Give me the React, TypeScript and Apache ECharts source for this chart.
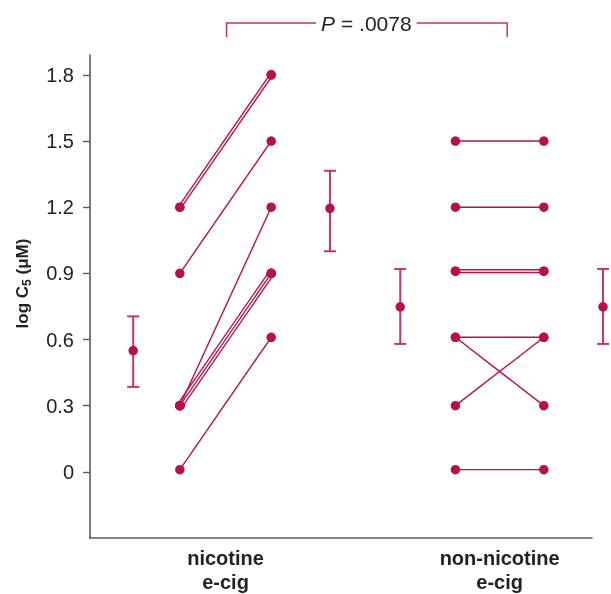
import React, { useEffect, useRef } from "react";
import * as echarts from "echarts";

// ---- data ----
const groups = ["nicotine\ne-cig", "non-nicotine\ne-cig"];
// x positions in axis units (0–100)
const preX = [17.9, 72.8];
const postX = [36.1, 90.4];
const preSummaryX = [8.6, 61.8];
const postSummaryX = [47.8, 102.2];

const nicPre = [1.2, 1.2, 0.9, 0.3, 0.3, 0.3, 0.3, 0.01];
const nicPost = [1.8, 1.8, 1.5, 1.2, 0.9, 0.9, 0.9, 0.61];
const nonPre = [1.5, 1.2, 0.91, 0.91, 0.61, 0.61, 0.3, 0.01];
const nonPost = [1.5, 1.2, 0.91, 0.91, 0.61, 0.3, 0.61, 0.01];

// [mean, low, high]
const nicPreSummary = [0.55, 0.385, 0.705];
const nicPostSummary = [1.195, 1.0, 1.365];
const nonPreSummary = [0.748, 0.58, 0.92];
const nonPostSummary = [0.748, 0.58, 0.92];

const yTicks = [0, 0.3, 0.6, 0.9, 1.2, 1.5, 1.8];
const pValueText = "{i|P} = .0078";
// bracket: [xLeft, xRight, yTop, yBottom] in axis units
const bracket = [27.2, 83.1, 2.035, 1.972];

const FONT = "Liberation Sans";
const MAIN = "#b8104d";
const BAR = "#c4336c";

function buildPairs(pre: number[], post: number[], x1: number, x2: number) {
  const out: number[][] = [];
  const seen: Record<string, number> = {};
  const counts: Record<string, number> = {};
  pre.forEach((v, i) => {
    const k = v + "_" + post[i];
    counts[k] = (counts[k] || 0) + 1;
  });
  pre.forEach((v, i) => {
    const k = v + "_" + post[i];
    const idx = seen[k] || 0;
    seen[k] = idx + 1;
    const off = idx - (counts[k] - 1) / 2;
    out.push([x1, v, x2, post[i], off]);
  });
  return out;
}

export default function App() {
  const ref = useRef<HTMLDivElement>(null);

  useEffect(() => {
    if (!ref.current) return;
    const chart = echarts.init(ref.current, undefined, { renderer: "svg" });

    const pairs = [
      ...buildPairs(nicPre, nicPost, preX[0], postX[0]),
      ...buildPairs(nonPre, nonPost, preX[1], postX[1]),
    ];
    const dots = [
      ...nicPre.map((v) => [preX[0], v]),
      ...nicPost.map((v) => [postX[0], v]),
      ...nonPre.map((v) => [preX[1], v]),
      ...nonPost.map((v) => [postX[1], v]),
    ];
    const summaries = [
      [preSummaryX[0], ...nicPreSummary],
      [postSummaryX[0], ...nicPostSummary],
      [preSummaryX[1], ...nonPreSummary],
      [postSummaryX[1], ...nonPostSummary],
    ];
    const mids = preX.map((x, i) => (x + postX[i]) / 2);

    chart.setOption({
      animation: false,
      textStyle: { fontFamily: FONT },
      grid: { left: 90, right: 19, top: 55, bottom: 53 },
      xAxis: {
        type: "value",
        min: 0,
        max: 100,
        splitLine: { show: false },
        axisTick: { show: false },
        axisLine: { show: true, onZero: false, lineStyle: { color: "#5a5a5a", width: 1.6 } },
        axisLabel: {
          customValues: mids,
          margin: 8,
          formatter: (v: number) => {
            let best = 0;
            mids.forEach((m, i) => {
              if (Math.abs(m - v) < Math.abs(mids[best] - v)) best = i;
            });
            return groups[best];
          },
          fontFamily: FONT,
          fontWeight: "bold",
          fontSize: 20,
          lineHeight: 24,
          color: "#222",
        },
      },
      yAxis: {
        type: "value",
        min: -0.3,
        max: 1.89,
        splitLine: { show: false },
        axisLine: { show: true, onZero: false, lineStyle: { color: "#5a5a5a", width: 1.6 } },
        axisTick: {
          show: true,
          length: 7,
          customValues: yTicks,
          lineStyle: { color: "#5a5a5a", width: 1.4 },
        },
        axisLabel: {
          customValues: yTicks,
          margin: 16,
          formatter: (v: number) => (v === 0 ? "0" : v.toFixed(1)),
          fontFamily: FONT,
          fontSize: 20,
          color: "#222",
        },
        name: "{t|log C}{s|5}{t| (μM)}",
        nameLocation: "middle",
        nameGap: 57,
        nameTextStyle: {
          fontFamily: FONT,
          padding: [0, 0, 0, 26],
          rich: {
            t: { fontFamily: FONT, fontSize: 17, fontWeight: "bold", color: "#222", lineHeight: 22 },
            s: { fontFamily: FONT, fontSize: 12, fontWeight: "bold", color: "#222", lineHeight: 14, verticalAlign: "bottom" },
          },
        },
      },
      series: [
        {
          type: "custom",
          clip: false,
          data: pairs,
          encode: { x: [0, 2], y: [1, 3] },
          renderItem: (params: any, api: any) => {
            const p1 = api.coord([api.value(0), api.value(1)]);
            const p2 = api.coord([api.value(2), api.value(3)]);
            const off = api.value(4) * 2.7;
            const dx = p2[0] - p1[0];
            const dy = p2[1] - p1[1];
            const len = Math.hypot(dx, dy) || 1;
            const nx = (-dy / len) * off;
            const ny = (dx / len) * off;
            return {
              type: "line",
              shape: { x1: p1[0] + nx, y1: p1[1] + ny, x2: p2[0] + nx, y2: p2[1] + ny },
              style: { stroke: MAIN, lineWidth: 1.4 },
            };
          },
        },
        {
          type: "custom",
          clip: false,
          data: summaries,
          encode: { x: 0, y: [2, 3] },
          renderItem: (params: any, api: any) => {
            const x = api.value(0);
            const lo = api.coord([x, api.value(2)]);
            const hi = api.coord([x, api.value(3)]);
            const cap = 6;
            return {
              type: "group",
              children: [
                { type: "line", shape: { x1: lo[0], y1: lo[1], x2: hi[0], y2: hi[1] }, style: { stroke: BAR, lineWidth: 2 } },
                { type: "line", shape: { x1: lo[0] - cap, y1: lo[1], x2: lo[0] + cap, y2: lo[1] }, style: { stroke: BAR, lineWidth: 2 } },
                { type: "line", shape: { x1: hi[0] - cap, y1: hi[1], x2: hi[0] + cap, y2: hi[1] }, style: { stroke: BAR, lineWidth: 2 } },
              ],
            };
          },
        },
        {
          type: "scatter",
          clip: false,
          symbol: "circle",
          symbolSize: 9.5,
          itemStyle: { color: MAIN, opacity: 1 },
          data: [...dots, ...summaries.map((s) => [s[0], s[1]])],
          z: 5,
        },
        {
          type: "custom",
          clip: false,
          data: [bracket],
          encode: { x: [0, 1], y: [2, 3] },
          renderItem: (params: any, api: any) => {
            const tl = api.coord([api.value(0), api.value(2)]);
            const tr = api.coord([api.value(1), api.value(2)]);
            const bl = api.coord([api.value(0), api.value(3)]);
            const br = api.coord([api.value(1), api.value(3)]);
            return {
              type: "group",
              children: [
                {
                  type: "polyline",
                  shape: { points: [bl, tl, tr, br] },
                  style: { stroke: BAR, lineWidth: 1.5, fill: "none" },
                },
                {
                  type: "text",
                  x: (tl[0] + tr[0]) / 2 - 0.5,
                  y: tl[1],
                  style: {
                    text: pValueText,
                    align: "center",
                    verticalAlign: "middle",
                    backgroundColor: "#fff",
                    padding: [2, 5],
                    rich: {
                      i: { fontFamily: FONT, fontSize: 21, fontStyle: "italic", fill: "#222" },
                    },
                    fontFamily: FONT,
                    fontSize: 21,
                    fill: "#222",
                  },
                  z2: 10,
                },
              ],
            };
          },
        },
      ],
    });

    return () => chart.dispose();
  }, []);

  return (
    <div
      ref={ref}
      style={{ position: "fixed", left: 0, top: 0, width: 611, height: 594 }}
    />
  );
}
